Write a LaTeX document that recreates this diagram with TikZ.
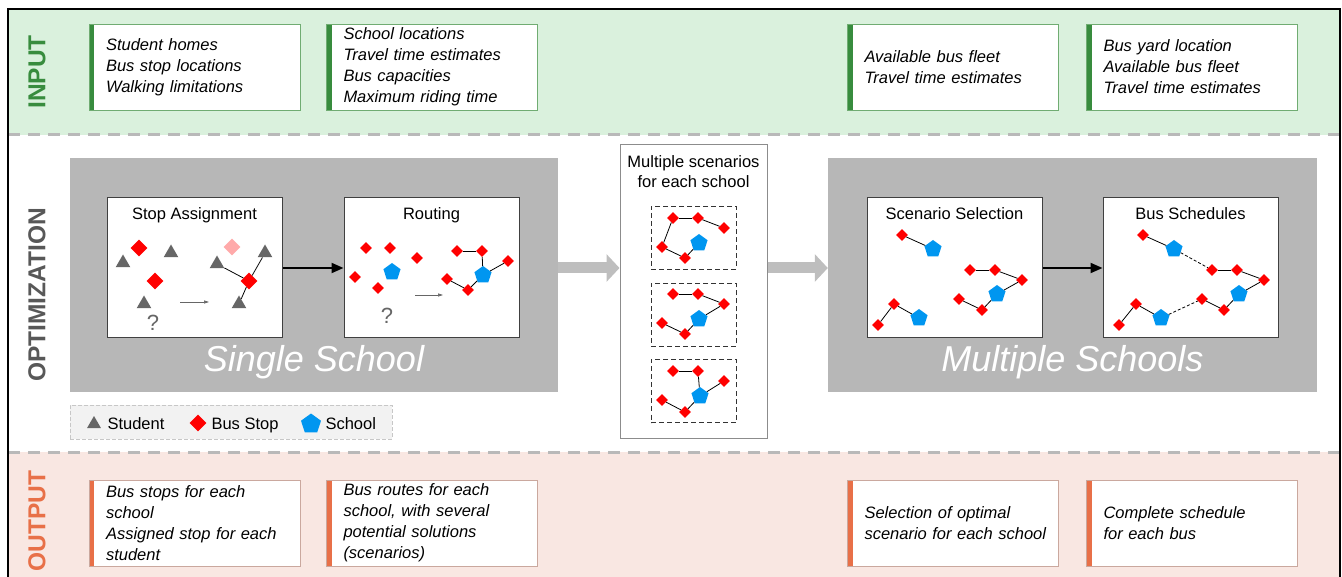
\documentclass[tikz,border=0pt]{standalone}
\usepackage{fontspec}
\setmainfont{Liberation Sans}
\usepackage{xcolor}
\usepackage{tikz}
\usetikzlibrary{shapes,arrows.meta,positioning}

\definecolor{inbg}{RGB}{218,241,221}
\definecolor{ingreen}{RGB}{56,140,62}
\definecolor{inedge}{RGB}{112,172,114}
\definecolor{outbg}{RGB}{249,231,226}
\definecolor{outorange}{RGB}{232,112,72}
\definecolor{outedge}{RGB}{202,168,158}
\definecolor{panelgray}{RGB}{183,183,183}
\definecolor{arrowgray}{RGB}{190,190,190}
\definecolor{sepgray}{RGB}{185,185,185}
\definecolor{stugray}{RGB}{102,102,102}
\definecolor{labelgray}{RGB}{88,88,88}
\definecolor{schoolblue}{RGB}{0,150,240}
\definecolor{pinkstop}{RGB}{255,170,170}

\begin{document}
\begin{tikzpicture}[
    x=1pt, y=-1pt,
    bar/.style={path picture={\fill[#1] (path picture bounding box.north west)
        rectangle ([xshift=5pt]path picture bounding box.south west);}},
    inbox/.style={rectangle, draw=inedge, fill=white, line width=0.8pt,
        minimum width=211pt, minimum height=86pt, text width=198pt, inner xsep=6.5pt,
        align=left, font=\fontsize{16.5}{21}\selectfont\itshape,
        execute at begin node={\leftskip=10.5pt\relax}, bar=ingreen},
    outbox/.style={inbox, draw=outedge, bar=outorange},
    band/.style={font=\fontsize{24.5}{28}\selectfont\bfseries, rotate=90},
    panel/.style={rectangle, fill=panelgray, minimum width=488pt, minimum height=234pt},
    panellbl/.style={font=\fontsize{36}{40}\selectfont\itshape, text=white},
    stepbox/.style={rectangle, draw=black!75, fill=white, line width=1pt,
        minimum width=175pt, minimum height=140pt},
    scenbox/.style={rectangle, draw=black!80, dashed, dash pattern=on 5pt off 3pt,
        line width=0.9pt, minimum width=85pt, minimum height=63pt},
    title/.style={font=\fontsize{16.5}{20}\selectfont},
    qmark/.style={font=\fontsize{22}{24}\selectfont, text=stugray},
    student/.style={regular polygon, regular polygon sides=3, fill=stugray,
        inner sep=0pt, minimum size=17pt},
    stop/.style={diamond, fill=red, inner sep=0pt, minimum size=12pt},
    bigstop/.style={stop, minimum size=17pt},
    school/.style={regular polygon, regular polygon sides=5, fill=schoolblue,
        inner sep=0pt, minimum size=18pt},
    link/.style={line width=0.8pt, black},
    hop/.style={link, dashed, dash pattern=on 3pt off 2pt},
    arrow/.style={-{Triangle[length=12pt, width=10pt]}, line width=2pt, black},
    smallarrow/.style={-{Triangle[length=5pt, width=3pt]}, line width=0.6pt, stugray},
    bigarrow/.style={-{Triangle[length=13pt, width=27pt]}, line width=11pt, arrowgray},
    sep/.style={sepgray, line width=3pt, dash pattern=on 12pt off 8pt}
]
    \useasboundingbox (0,0) rectangle (1342,577);

    % Bands
    \fill[inbg] (8,9) rectangle (1340,135);
    \fill[outbg] (8,452) rectangle (1340,590);
    \draw[sep] (8,135) -- (1340,135);
    \draw[sep] (8,452) -- (1340,452);
    \draw[line width=2pt] (8,590) -- (8,9) -- (1340,9) -- (1340,590);

    \node[band, text=ingreen] (inlbl) at (37,72) {INPUT};
    \node[band, text=labelgray] (optlbl) at (37,295) {OPTIMIZATION};
    \node[band, text=outorange] (outlbl) at (37,521) {OUTPUT};

    % --- Input ---
    \node[inbox] (in1) at (194.5,67) {Student homes\\Bus stop locations\\Walking limitations};
    \node[inbox] (in2) at (432,67) {School locations\\Travel time estimates\\Bus capacities\\Maximum riding time};
    \node[inbox] (in3) at (953,67) {Available bus fleet\\Travel time estimates};
    \node[inbox] (in4) at (1192,67) {Bus yard location\\Available bus fleet\\Travel time estimates};

    % --- Output ---
    \node[outbox] (out1) at (194.5,523) {Bus stops for each\\school\\Assigned stop for each\\student};
    \node[outbox] (out2) at (432,523) {Bus routes for each\\school, with several\\potential solutions\\(scenarios)};
    \node[outbox] (out3) at (953,523) {Selection of optimal\\scenario for each school};
    \node[outbox] (out4) at (1192,523) {Complete schedule\\for each bus};

    % --- Optimization: single school ---
    \node[panel] (single) at (314,275) {};
    \node[panellbl] (singlelbl) at (314,362) {Single School};
    \node[stepbox] (stopbox) at (194.5,268) {};
    \node[stepbox] (routebox) at (431.5,268) {};
    \node[title, anchor=base] (stoptitle) at (194.5,220) {Stop Assignment};
    \node[title, anchor=base] (routetitle) at (431.5,220) {Routing};
    \draw[arrow] (stopbox) -- (routebox);

    % stop assignment
    \node[bigstop] (sastopA) at (139,248) {};
    \node[student] (sastuA) at (123,263) {};
    \node[student] (sastuB) at (171,253) {};
    \node[bigstop] (sastopB) at (155,281) {};
    \node[student] (sastuC) at (144,304) {};
    \node[qmark] (saq) at (153,323) {?};
    \coordinate (saa1) at (180,302);
    \coordinate (saa2) at (209,302);
    \draw[smallarrow] (saa1) -- (saa2);
    \node[bigstop, fill=pinkstop] (sapink) at (232,247) {};
    \node[student] (sastuD) at (217,264) {};
    \node[student] (sastuE) at (265,253) {};
    \node[bigstop] (sastopC) at (249,281) {};
    \node[student] (sastuF) at (239,304) {};
    \draw[link] (sastuD) -- (sastopC);
    \draw[link] (sastopC) -- (sastuE);
    \draw[link] (sastopC) -- (sastuF);

    % routing
    \node[stop] (ro1) at (366,248) {};
    \node[stop] (ro2) at (390,248) {};
    \node[stop] (ro3) at (417,258) {};
    \node[stop] (ro4) at (355,277) {};
    \node[school] (roschoolA) at (392,272) {};
    \node[stop] (ro5) at (378,288) {};
    \node[qmark] (roq) at (387,316) {?};
    \coordinate (roa1) at (415,295);
    \coordinate (roa2) at (443,295);
    \draw[smallarrow] (roa1) -- (roa2);
    \node[stop] (ro6) at (457,251) {};
    \node[stop] (ro7) at (482,251) {};
    \node[stop] (ro8) at (508,261) {};
    \node[stop] (ro9) at (447,279) {};
    \node[stop] (ro10) at (468,290) {};
    \node[school] (roschoolB) at (483,275) {};
    \draw[link] (ro6) -- (ro7);
    \draw[link] (ro7) -- (roschoolB);
    \draw[link] (roschoolB) -- (ro8);
    \draw[link] (ro9) -- (ro10);
    \draw[link] (ro10) -- (roschoolB);

    % --- Scenarios ---
    \node[rectangle, draw=black!45, fill=white, line width=1pt,
        minimum width=147pt, minimum height=293pt] (scen) at (693.5,291.5) {};
    \node[title, align=center] (scentitle) at (693.5,171.5) {Multiple scenarios\\for each school};
    \node[scenbox] (scenA) at (693.5,237.5) {};
    \node[scenbox] (scenB) at (693.5,315) {};
    \node[scenbox] (scenC) at (693.5,391) {};
    \draw[bigarrow] (single.east |- stopbox) -- (scen.west |- stopbox);

    \node[stop] (sca1) at (673,218) {};
    \node[stop] (sca2) at (698,218) {};
    \node[stop] (sca3) at (724,228) {};
    \node[stop] (sca4) at (662,247) {};
    \node[stop] (sca5) at (685,258) {};
    \node[school] (scaschool) at (699,243) {};
    \draw[link] (sca1) -- (sca2);
    \draw[link] (sca2) -- (sca3);
    \draw[link] (sca1) -- (sca4);
    \draw[link] (sca4) -- (sca5);
    \draw[link] (sca5) -- (scaschool);

    \node[stop] (scb1) at (673,294) {};
    \node[stop] (scb2) at (698,294) {};
    \node[stop] (scb3) at (724,304) {};
    \node[stop] (scb4) at (662,323) {};
    \node[stop] (scb5) at (685,334) {};
    \node[school] (scbschool) at (699,319) {};
    \draw[link] (scb1) -- (scb2);
    \draw[link] (scb2) -- (scb3);
    \draw[link] (scb3) -- (scbschool);
    \draw[link] (scb4) -- (scb5);
    \draw[link] (scb5) -- (scbschool);

    \node[stop] (scc1) at (673,371) {};
    \node[stop] (scc2) at (698,371) {};
    \node[stop] (scc3) at (724,381) {};
    \node[stop] (scc4) at (662,400) {};
    \node[stop] (scc5) at (685,412) {};
    \node[school] (sccschool) at (700,396) {};
    \draw[link] (scc1) -- (scc2);
    \draw[link] (scc2) -- (sccschool);
    \draw[link] (sccschool) -- (scc3);
    \draw[link] (scc4) -- (scc5);
    \draw[link] (scc5) -- (sccschool);

    % --- Optimization: multiple schools ---
    \node[panel, minimum width=489pt] (multi) at (1072.5,275) {};
    \node[panellbl] (multilbl) at (1072.5,362) {Multiple Schools};
    \node[stepbox] (selbox) at (954.5,268) {};
    \node[stepbox] (schedbox) at (1190.5,268) {};
    \draw[bigarrow] (scen.east |- selbox) -- (multi.west |- selbox);
    \node[title, anchor=base] (seltitle) at (954.5,220) {Scenario Selection};
    \node[title, anchor=base] (schedtitle) at (1190.5,220) {Bus Schedules};
    \draw[arrow] (selbox) -- (schedbox);

    % scenario selection
    \node[stop] (ss1) at (902,235) {};
    \node[school] (ssschoolA) at (933,249) {};
    \node[stop] (ss2) at (970,270) {};
    \node[stop] (ss3) at (995,270) {};
    \node[stop] (ss4) at (1022,280) {};
    \node[stop] (ss5) at (959,299) {};
    \node[stop] (ss6) at (982,310) {};
    \node[school] (ssschoolB) at (997,294) {};
    \node[stop] (ss7) at (894,304) {};
    \node[stop] (ss8) at (878,325) {};
    \node[school] (ssschoolC) at (919,318) {};
    \draw[link] (ss1) -- (ssschoolA);
    \draw[link] (ss2) -- (ss3);
    \draw[link] (ss3) -- (ss4);
    \draw[link] (ss4) -- (ssschoolB);
    \draw[link] (ss5) -- (ss6);
    \draw[link] (ss6) -- (ssschoolB);
    \draw[link] (ss8) -- (ss7);
    \draw[link] (ss7) -- (ssschoolC);

    % bus schedules
    \node[stop] (bs1) at (1143,235) {};
    \node[school] (bsschoolA) at (1174,249) {};
    \node[stop] (bs2) at (1212,270) {};
    \node[stop] (bs3) at (1237,270) {};
    \node[stop] (bs4) at (1264,280) {};
    \node[stop] (bs5) at (1202,299) {};
    \node[stop] (bs6) at (1224,310) {};
    \node[school] (bsschoolB) at (1239,294) {};
    \node[stop] (bs7) at (1136,304) {};
    \node[stop] (bs8) at (1119,325) {};
    \node[school] (bsschoolC) at (1161,318) {};
    \draw[link] (bs1) -- (bsschoolA);
    \draw[hop] (bsschoolA) -- (bs2);
    \draw[link] (bs2) -- (bs3);
    \draw[link] (bs3) -- (bs4);
    \draw[link] (bs4) -- (bsschoolB);
    \draw[link] (bs5) -- (bs6);
    \draw[link] (bs6) -- (bsschoolB);
    \draw[link] (bs8) -- (bs7);
    \draw[link] (bs7) -- (bsschoolC);
    \draw[hop] (bsschoolC) -- (bs5);

    % Legend
    \node[rectangle, draw=black!22, dashed, dash pattern=on 4pt off 2pt, fill=black!5,
        line width=0.8pt, minimum width=322pt, minimum height=34pt] (legend) at (231,422) {};
    \node[student, minimum size=16pt] (legstu) at (94,424) {};
    \node[title, anchor=base west] (legstulbl) at (104,429) {Student};
    \node[bigstop] (legstop) at (198,423) {};
    \node[title, anchor=base west] (legstoplbl) at (208,429) {Bus Stop};
    \node[school, minimum size=21pt] (legschool) at (311,424) {};
    \node[title, anchor=base west] (legschoollbl) at (322,429) {School};
\end{tikzpicture}
\end{document}
